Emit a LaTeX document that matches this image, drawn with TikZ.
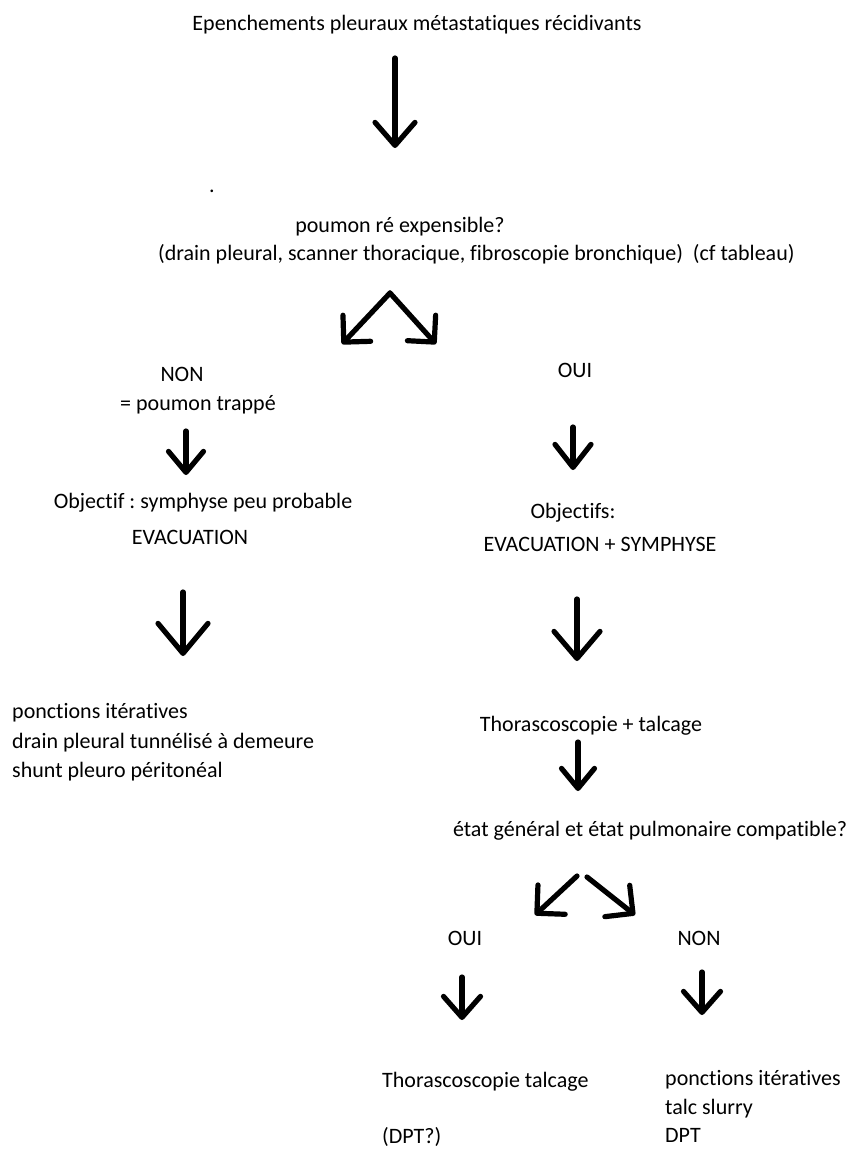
\documentclass[tikz,border=0pt]{standalone}
\usepackage{fontspec}
\setmainfont{Carlito}[Ligatures={NoCommon,NoRare}]
\frenchspacing
\usetikzlibrary{arrows.meta}
\begin{document}
\begin{tikzpicture}[x=1pt,y=-1pt,
  txt/.style={inner sep=0pt, anchor=base, font=\fontsize{22}{29}\selectfont, text=black},
  ltxt/.style={txt, anchor=base west},
  arr/.style 2 args={line width=5.2pt, line cap=round, line join=round,
     -{Straight Barb[round,length=#1,width=#2]}}]
\useasboundingbox (0,0) rectangle (858,1151);

% texts
\node[txt] (title) at (417,30) {Epenchements pleuraux métastatiques récidivants};
\node[txt] (dot) at (212,192) {.};
\node[txt] (q1) at (400,232) {poumon ré expensible?};
\node[ltxt] (q1b) at (158,260) {(drain pleural, scanner thoracique, fibroscopie bronchique)\ \ (cf tableau)};

\node[txt] (non1) at (182,381) {NON};
\node[txt] (non1b) at (198,410) {= poumon trappé};
\node[txt] (obj1) at (203,508) {Objectif : symphyse peu probable};
\node[txt] (evac1) at (190,544) {EVACUATION};
\node[ltxt] (l1) at (12,718) {ponctions itératives};
\node[ltxt] (l2) at (12,748) {drain pleural tunnélisé à demeure};
\node[ltxt] (l3) at (12,777) {shunt pleuro péritonéal};

\node[txt] (oui1) at (575,377) {OUI};
\node[txt] (obj2) at (573,518) {Objectifs:};
\node[txt] (evac2) at (600,551) {EVACUATION + SYMPHYSE};
\node[txt] (thor) at (591,731) {Thorascoscopie + talcage};
\node[txt] (etat) at (650,836) {état général et état pulmonaire compatible?};

\node[txt] (oui2) at (465,945) {OUI};
\node[txt] (non2) at (699,945) {NON};
\node[ltxt] (thor2) at (382,1087) {Thorascoscopie talcage};
\node[ltxt] (dpt1) at (382,1143) {(DPT?)};
\node[ltxt] (r1) at (665,1085) {ponctions itératives};
\node[ltxt] (r2) at (665,1114) {talc slurry};
\node[ltxt] (r3) at (665,1142) {DPT};

% arrow end points
\coordinate (a1s) at (395,58);  \coordinate (a1e) at (395,148);
\coordinate (s1) at (390,293);  \coordinate (s1l) at (342,344); \coordinate (s1r) at (436,344);
\coordinate (a2s) at (186,431); \coordinate (a2e) at (186,475);
\coordinate (a3s) at (183,592); \coordinate (a3e) at (183,656);
\coordinate (b2s) at (573,427); \coordinate (b2e) at (573,470);
\coordinate (b3s) at (577,599); \coordinate (b3e) at (577,661);
\coordinate (b4s) at (578,742); \coordinate (b4e) at (578,791);
\coordinate (s2a) at (577,876); \coordinate (s2l) at (535,915);
\coordinate (s2b) at (587,877); \coordinate (s2r) at (635,915);
\coordinate (c1s) at (462,977); \coordinate (c1e) at (462,1020);
\coordinate (c2s) at (702,972); \coordinate (c2e) at (702,1015);

% arrows
\draw[arr={23pt}{40pt}] (a1s) -- (a1e);
\draw[arr={19pt}{38pt}] (s1) -- (s1l);
\draw[arr={19pt}{38pt}] (s1) -- (s1r);
\draw[arr={21pt}{35pt}] (a2s) -- (a2e);
\draw[arr={30pt}{50pt}] (a3s) -- (a3e);
\draw[arr={23pt}{36pt}] (b2s) -- (b2e);
\draw[arr={27pt}{46pt}] (b3s) -- (b3e);
\draw[arr={20pt}{33pt}] (b4s) -- (b4e);
\draw[arr={20pt}{40pt}] (s2a) -- (s2l);
\draw[arr={20pt}{40pt}] (s2b) -- (s2r);
\draw[arr={21pt}{37pt}] (c1s) -- (c1e);
\draw[arr={21pt}{37pt}] (c2s) -- (c2e);
\end{tikzpicture}
\end{document}
